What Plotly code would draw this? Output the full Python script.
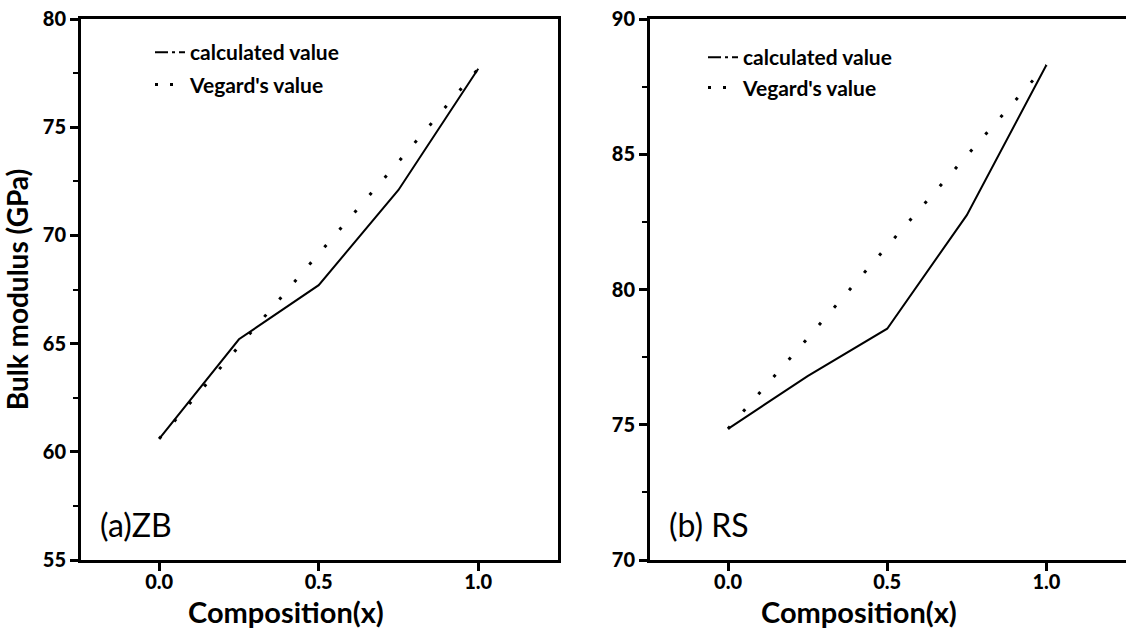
import plotly.graph_objects as go

# ---- data ----
composition = [0.0, 0.25, 0.5, 0.75, 1.0]
zb_calculated = [60.6, 65.2, 67.7, 72.1, 77.7]
zb_vegard = [60.6, 64.9, 69.15, 73.4, 77.7]
rs_calculated = [74.85, 76.8, 78.55, 82.75, 88.3]
rs_vegard = [74.85, 78.2, 81.6, 84.95, 88.3]

ZB_Y_TICKS = [55, 60, 65, 70, 75, 80]
ZB_Y_LABELS = ["55", "60", "65", "70", "75", "80"]
RS_Y_TICKS = [70, 75, 80, 85, 90]
RS_Y_LABELS = ["70", "75", "80", "85", "90"]
X_TICKS = [0.0, 0.5, 1.0]
X_LABELS = ["0.0", "0.5", "1.0"]

W, H = 1126, 634
FONT = "Lato"
BLACK = "black"
CALC_DASH = "13px,4px,3px,4px"
VEG_DASH = "3px,20px"

fig = go.Figure()

# data traces
fig.add_trace(go.Scatter(x=composition, y=zb_calculated, mode="lines",
                         line=dict(color=BLACK, width=2), showlegend=False,
                         xaxis="x", yaxis="y"))
fig.add_trace(go.Scatter(x=composition, y=zb_vegard, mode="lines",
                         line=dict(color=BLACK, width=3, dash=VEG_DASH), showlegend=False,
                         xaxis="x", yaxis="y"))
fig.add_trace(go.Scatter(x=composition, y=rs_calculated, mode="lines",
                         line=dict(color=BLACK, width=2), showlegend=False,
                         xaxis="x2", yaxis="y2"))
fig.add_trace(go.Scatter(x=composition, y=rs_vegard, mode="lines",
                         line=dict(color=BLACK, width=3, dash=VEG_DASH), showlegend=False,
                         xaxis="x2", yaxis="y2"))

# legend entries
for lg, xa, ya in [("legend", "x", "y"), ("legend2", "x2", "y2")]:
    fig.add_trace(go.Scatter(x=[None], y=[None], mode="lines", name="calculated value",
                             line=dict(color=BLACK, width=2, dash=CALC_DASH),
                             legend=lg, legendgroup=lg + "c", xaxis=xa, yaxis=ya))
    fig.add_trace(go.Scatter(x=[None], y=[None], mode="lines", name="Vegard's value",
                             line=dict(color=BLACK, width=3, dash="3px,12px"),
                             legend=lg, legendgroup=lg + "v", xaxis=xa, yaxis=ya))

def px_x(p):
    return p / W

def px_y(p):
    return 1 - p / H

TICKFONT = dict(family=FONT, size=20, color=BLACK, weight=900)

axis_common = dict(showgrid=False, zeroline=False, showline=True, linecolor=BLACK,
                   linewidth=3, ticks="outside", ticklen=8, tickwidth=2.5, tickcolor=BLACK,
                   tickfont=TICKFONT, automargin=False)

x_common = dict(axis_common, range=[-0.245, 1.25], tickvals=X_TICKS, ticktext=X_LABELS,
                mirror=True, ticklabelstandoff=-6)

LEGFONT = dict(family=FONT, size=21, color=BLACK, weight="bold")

fig.update_layout(
    width=W, height=H,
    margin=dict(l=0, r=0, t=0, b=0),
    paper_bgcolor="white", plot_bgcolor="white",
    font=dict(family=FONT, color=BLACK),
    xaxis=dict(x_common, domain=[px_x(81), px_x(558)], anchor="y"),
    yaxis=dict(axis_common, domain=[px_y(560), px_y(19)], range=[55, 80],
               tickvals=ZB_Y_TICKS, ticktext=ZB_Y_LABELS, mirror=True, anchor="x",
               minor=dict(ticks="outside", ticklen=5, tickwidth=2, tickcolor=BLACK, dtick=2.5),
               title=dict(text="Bulk modulus (GPa)", standoff=7,
                          font=dict(family=FONT, size=28, color=BLACK, weight="bold"))),
    xaxis2=dict(x_common, domain=[px_x(650), 1.0], anchor="y2"),
    yaxis2=dict(axis_common, domain=[px_y(560), px_y(19)], range=[70, 90],
                tickvals=RS_Y_TICKS, ticktext=RS_Y_LABELS, mirror=False, anchor="x2",
                minor=dict(ticks="outside", ticklen=5, tickwidth=2, tickcolor=BLACK, dtick=2.5)),
    legend=dict(x=px_x(150), y=px_y(32), xanchor="left", yanchor="top",
                bgcolor="rgba(0,0,0,0)", tracegroupgap=2, traceorder="grouped",
                font=LEGFONT),
    legend2=dict(x=px_x(703), y=px_y(37), xanchor="left", yanchor="top",
                 bgcolor="rgba(0,0,0,0)", tracegroupgap=0, traceorder="grouped",
                 font=LEGFONT),
    annotations=[
        dict(text="Composition(x)", xref="x domain", yref="paper", x=0.43, y=px_y(611),
             xanchor="center", yanchor="middle", showarrow=False,
             font=dict(family=FONT, size=29, color=BLACK, weight="bold")),
        dict(text="Composition(x)", xref="x2 domain", yref="paper", x=0.44, y=px_y(611),
             xanchor="center", yanchor="middle", showarrow=False,
             font=dict(family=FONT, size=29, color=BLACK, weight="bold")),
        dict(text="(a)ZB", xref="x domain", yref="y domain", x=0.035, y=0.065,
             xanchor="left", yanchor="middle", showarrow=False,
             font=dict(family=FONT, size=32, color=BLACK)),
        dict(text="(b) RS", xref="x2 domain", yref="y2 domain", x=0.035, y=0.065,
             xanchor="left", yanchor="middle", showarrow=False,
             font=dict(family=FONT, size=32, color=BLACK)),
    ],
)

fig.write_html("out.html")
